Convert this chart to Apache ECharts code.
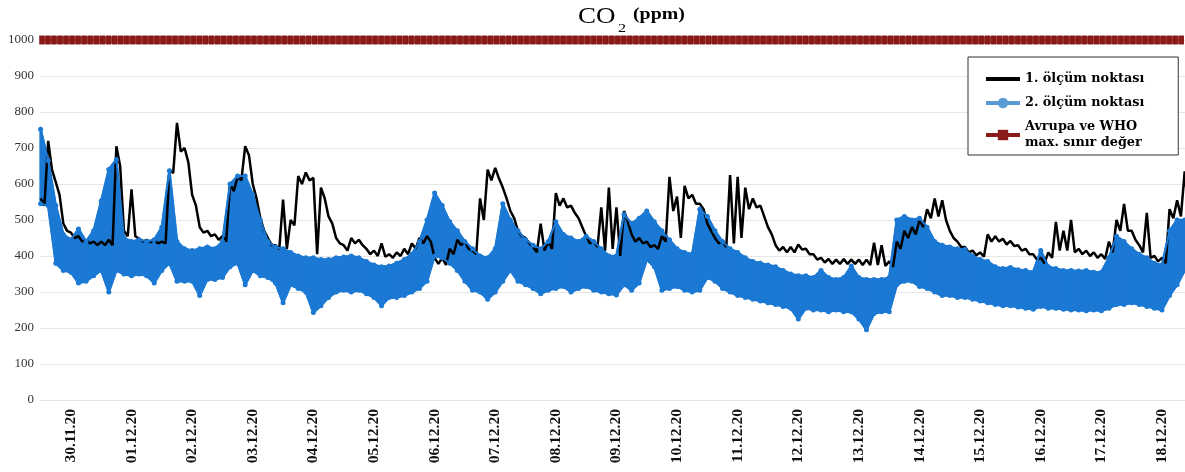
<!DOCTYPE html>
<html><head><meta charset="utf-8">
<script src="https://cdn.jsdelivr.net/npm/echarts@6/dist/echarts.min.js"></script>
<style>html,body{margin:0;padding:0;background:#fff}#c{width:1185px;height:472px}</style>
</head><body><div id="c"></div>
<script>
// ---- data ----
const dayLabels = ['30.11.20','01.12.20','02.12.20','03.12.20','04.12.20','05.12.20','06.12.20','07.12.20','08.12.20','09.12.20','10.12.20','11.12.20','12.12.20','13.12.20','14.12.20','15.12.20','16.12.20','17.12.20','18.12.20'];
const seriesNames = ['1. ölçüm noktası', '2. ölçüm noktası', 'Avrupa ve WHO\nmax. sınır değer'];
const sampleStartDay = -0.5;   // first reading, in days from 30.11.20
const samplesPerDay = 8;        // one reading pair every 3 hours

// point 1 (black): upper / lower edge of the noisy trace
const point1Upper = [560,720,605,490,
 465,455,445,440,440,445,705,470,
 585,448,445,445,440,640,770,700,
 570,480,470,460,455,600,620,705,
 600,505,450,430,557,500,622,632,
 617,590,510,450,430,450,445,420,
 415,435,405,410,420,435,450,455,
 395,395,420,445,440,415,560,640,
 645,590,525,470,450,425,490,440,
 575,560,540,505,455,440,535,590,
 535,525,460,450,440,430,455,620,
 565,595,570,545,490,450,440,625,
 620,590,560,540,480,430,425,425,
 432,420,405,395,392,390,392,390,
 390,390,437,430,385,440,470,480,
 500,530,560,555,470,440,425,415,
 410,460,455,448,442,430,420,405,
 395,410,495,470,500,420,415,410,
 405,440,500,545,470,430,520,400,
 395,530,555,635];
const point1Lower = [540,640,570,470,
 450,440,435,430,430,430,650,455,
 455,440,438,435,435,630,690,660,
 540,465,455,445,440,580,610,680,
 560,470,430,420,420,485,600,610,
 405,560,490,435,415,435,430,405,
 400,398,395,400,405,420,435,440,
 378,375,405,430,420,405,500,610,
 615,560,505,455,435,410,415,420,
 540,535,520,480,435,425,415,420,
 400,495,440,435,425,420,440,525,
 450,560,545,530,470,435,425,435,
 450,530,535,510,460,415,410,410,
 418,405,390,382,378,378,378,378,
 375,375,375,372,370,420,450,460,
 480,505,510,500,450,425,410,402,
 398,440,440,432,428,415,405,390,
 380,395,415,415,410,405,400,395,
 392,410,470,470,445,410,395,385,
 380,505,510,520];

// point 2 (blue): upper / lower edge of the dense band
const point2Upper = [752,665,540,460,
 445,475,440,470,553,640,668,450,
 440,445,440,445,480,637,440,420,
 415,420,425,420,440,600,622,622,
 570,500,440,425,420,410,400,395,
 395,390,390,395,397,400,395,385,
 375,370,372,380,390,405,440,500,
 575,540,495,470,440,420,400,395,
 420,545,500,470,445,430,420,440,
 495,460,450,440,455,440,420,400,
 400,515,490,505,525,495,470,445,
 420,410,405,530,510,470,440,420,
 410,395,385,380,375,370,360,350,
 345,345,340,360,340,335,340,372,
 340,335,335,335,340,500,510,500,
 505,480,440,430,425,420,418,400,
 390,385,370,365,368,362,360,355,
 415,370,365,360,360,358,360,355,
 355,395,455,440,420,405,395,380,
 375,470,500,500];
const point2Lower = [545,540,380,360,
 355,325,330,345,360,300,360,350,
 345,350,345,325,360,380,330,330,
 330,290,335,335,340,370,380,320,
 360,345,340,325,270,320,310,300,
 243,262,285,300,305,300,305,295,
 285,262,285,285,290,300,310,330,
 400,395,380,360,330,305,300,280,
 300,330,360,330,320,310,295,305,
 310,315,300,310,315,305,300,295,
 292,320,305,325,390,370,305,310,
 315,305,300,305,340,330,310,300,
 290,285,280,275,270,265,260,255,
 225,255,250,250,245,250,245,245,
 225,195,240,245,245,320,330,330,
 315,310,300,290,290,285,285,280,
 275,270,265,262,262,258,255,252,
 260,255,255,252,250,250,248,250,
 248,255,265,265,270,265,260,255,
 250,290,320,360];

const limitValue = 1000;   // European / WHO maximum
const yMin = 0, yMax = 1000, yStep = 100;
const xMin = -0.51, xMax = 18.38;

// ---- build series data ----
const step = 1 / samplesPerDay;
const tAt = i => sampleStartDay + i * step;
const zig = (up, lo) => { const out = []; up.forEach((u, i) => { out.push([tAt(i), u]); out.push([tAt(i) + step / 2, lo[i]]); }); return out; };
const pts = arr => arr.map((v, i) => [tAt(i), v]);
const bandData = point2Upper.slice(0, -1).map((u, i) => [tAt(i), u, point2Lower[i], tAt(i + 1), point2Upper[i + 1], point2Lower[i + 1]]);
const limitPts = []; for (let k = 0; xMin + 0.03 + k * 0.1 <= xMax; k++) limitPts.push([xMin + 0.03 + k * 0.1, limitValue]);

const BLUE = '#1b79d4';
const serif = 'Liberation Serif';
const chart = echarts.init(document.getElementById('c'), null, {renderer: 'canvas'});
chart.setOption({
  animation: false,
  backgroundColor: '#fff',
  graphic: [
    {type: 'text', x: 578, y: 6, scaleX: 1.2, style: {text: 'CO', font: '22.5px "Liberation Serif"', fill: '#000'}},
    {type: 'text', x: 618, y: 21, scaleX: 1.2, style: {text: '2', font: '13.5px "Liberation Serif"', fill: '#000'}},
    {type: 'text', x: 633, y: 7, scaleX: 1.24, style: {text: '(ppm)', font: 'bold 16px "Liberation Serif"', fill: '#000'}}
  ],
  grid: {left: 40, right: 0, top: 40, bottom: 72},
  legend: {
    orient: 'vertical', left: 968, top: 57,
    backgroundColor: '#fff', borderColor: '#333', borderWidth: 1,
    padding: [14, 34, 4, 16], itemGap: 8, itemWidth: 34, itemHeight: 13,
    textStyle: {fontFamily: 'DejaVu Serif', fontWeight: 'bold', fontSize: 12.8, color: '#000', lineHeight: 16},
    data: [
      {name: seriesNames[0], icon: 'path://M0,0L34,0L34,4L0,4Z', itemStyle: {color: '#000'}},
      {name: seriesNames[1], itemStyle: {color: '#5b9bd5'}, lineStyle: {color: '#5b9bd5', width: 4}},
      {name: seriesNames[2], itemStyle: {color: '#8b1a1a'}, lineStyle: {color: '#8b1a1a', width: 4}}
    ]
  },
  xAxis: {
    type: 'value', min: xMin, max: xMax,
    splitLine: {show: false},
    axisLine: {show: true, lineStyle: {color: '#e3e3e3'}},
    axisTick: {show: false},
    axisLabel: {
      customValues: dayLabels.map((d, i) => i),
      formatter: v => dayLabels[Math.round(v)] || '',
      rotate: 90, margin: 9,
      fontFamily: serif, fontWeight: 'bold', fontSize: 15.5, color: '#111'
    }
  },
  yAxis: {
    type: 'value', min: yMin, max: yMax, interval: yStep,
    axisLine: {show: false}, axisTick: {show: false},
    splitLine: {lineStyle: {color: '#e6e6e6'}},
    axisLabel: {fontFamily: serif, fontSize: 13, color: '#333', margin: 6, formatter: v => String(v)}
  },
  series: [
    {name: seriesNames[0], type: 'line', data: zig(point1Upper, point1Lower), symbol: 'none',
     lineStyle: {color: '#000', width: 2.5}, itemStyle: {color: '#000'}},
    {name: 'band', type: 'custom', silent: true, data: bandData,
     encode: {x: [0, 3], y: [1, 2, 4, 5]},
     renderItem: (params, api) => {
       const a = api.coord([api.value(0), api.value(1)]);
       const b = api.coord([api.value(3), api.value(4)]);
       const c = api.coord([api.value(3), api.value(5)]);
       const d = api.coord([api.value(0), api.value(2)]);
       return {type: 'polygon', shape: {points: [a, b, c, d]}, style: {fill: BLUE, stroke: BLUE, lineWidth: 2.5, lineJoin: 'round'}};
     }},
    {name: seriesNames[1], type: 'line', data: pts(point2Upper), symbol: 'circle', symbolSize: 5, showAllSymbol: true,
     lineStyle: {color: BLUE, width: 2}, itemStyle: {color: BLUE}},
    {name: 'band-low', type: 'line', data: pts(point2Lower), symbol: 'circle', symbolSize: 5, showAllSymbol: true,
     lineStyle: {color: BLUE, width: 2}, itemStyle: {color: BLUE}},
    {name: seriesNames[2], type: 'line', data: limitPts, symbol: 'rect', symbolSize: [5.2, 9], showAllSymbol: true, clip: false,
     lineStyle: {color: '#a34b4b', width: 8}, itemStyle: {color: '#8b1a1a'}}
  ]
});
</script></body></html>
